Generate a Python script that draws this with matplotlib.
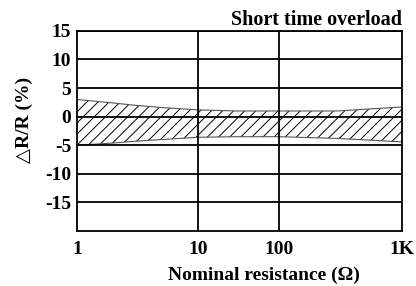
import matplotlib
matplotlib.use("Agg")
import matplotlib.pyplot as plt
import numpy as np

plt.rcParams["font.family"] = ["Liberation Serif", "DejaVu Serif"]
plt.rcParams["font.weight"] = "bold"
plt.rcParams["axes.titleweight"] = "bold"
plt.rcParams["axes.labelweight"] = "bold"
plt.rcParams["hatch.linewidth"] = 0.7

# x axis of the original is not a true log scale: decades are drawn unevenly
tick_vals = [1, 10, 100, 1000]
tick_labels = ["1", "10", "100", "1K"]
tick_pos = [0, 1, 1.67, 2.69]

# drift band (percent)
res = [1, 2, 3, 5, 10, 30, 100, 300, 1000]
upper = [3.0, 2.4, 2.0, 1.6, 1.2, 1.0, 1.0, 1.0, 1.7]
lower = [-5.0, -4.6, -4.3, -4.0, -3.6, -3.5, -3.5, -3.8, -4.4]

y_ticks = [15, 10, 5, 0, -5, -10, -15]


def to_pos(r):
    return np.interp(np.log10(r), np.log10(tick_vals), tick_pos)


x = to_pos(np.array(res))

fig = plt.figure(figsize=(4.16, 2.86), dpi=100)
ax = fig.add_axes([0.185, 0.192, 0.781, 0.7])

ax.fill_between(x, lower, upper, facecolor="white", edgecolor="black",
                hatch="///", linewidth=0)
ax.plot(x, upper, color="#555", linewidth=0.8)
ax.plot(x, lower, color="#555", linewidth=0.8)

for v in y_ticks:
    ax.axhline(v, color="black", linewidth=1.3, zorder=3)
for p in tick_pos[1:-1]:
    ax.axvline(p, color="black", linewidth=1.3, zorder=3)

ax.set_xlim(tick_pos[0], tick_pos[-1])
ax.set_ylim(-20, 15)
ax.set_xticks(tick_pos)
ax.set_xticklabels(tick_labels)
ax.set_yticks(y_ticks)
ax.set_yticklabels([str(v) for v in y_ticks])
ax.tick_params(length=0, labelsize=14, pad=4)
ax.tick_params(axis="x", pad=7)
for s in ax.spines.values():
    s.set_linewidth(1.3)

ax.set_xlabel("Nominal resistance (\u03a9)", fontsize=14)
ax.xaxis.set_label_coords(0.575, -0.222)
ax.xaxis.label.set_va("center")
ax.set_ylabel("\u25b3R/R (%)", fontsize=14)
ax.yaxis.set_label_coords(-0.163, 0.555)
ax.yaxis.label.set_va("center")
ax.set_title("Short time overload", fontsize=14.5, loc="right", pad=4)

fig.savefig("out.png", dpi=100)
